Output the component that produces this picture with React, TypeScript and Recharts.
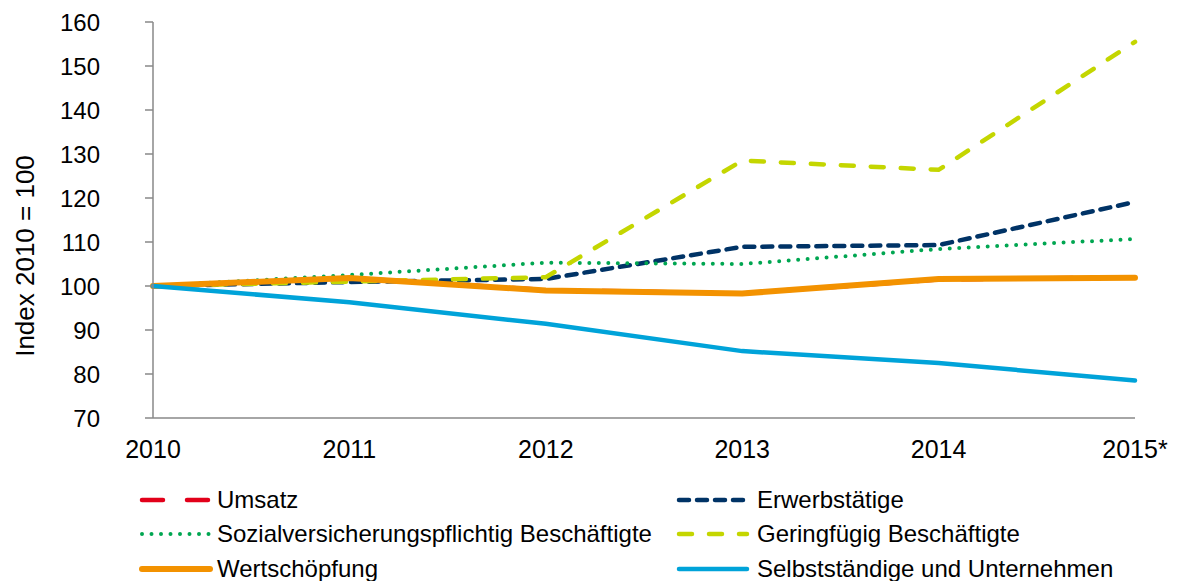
import React from "react";
import { Line, LineChart, XAxis, YAxis } from "recharts";

const years = ["2010", "2011", "2012", "2013", "2014", "2015*"];
const umsatz = [100, 101.8, 99.1, 98.3, 101.5, 102];
const erwerbstaetige = [100, 100.9, 101.6, 108.9, 109.3, 119.1];
const sozialversichert = [100, 102.5, 105.3, 105, 108.4, 110.7];
const geringfuegig = [100, 101, 102, 128.5, 126.4, 155.5];
const wertschoepfung = [100, 101.8, 99, 98.3, 101.6, 101.9];
const selbststaendige = [100, 96.3, 91.4, 85.2, 82.5, 78.5];
const yTicks = [70, 80, 90, 100, 110, 120, 130, 140, 150, 160];

const data = years.map((year, i) => ({
  year,
  umsatz: umsatz[i],
  erwerbstaetige: erwerbstaetige[i],
  sozialversichert: sozialversichert[i],
  geringfuegig: geringfuegig[i],
  wertschoepfung: wertschoepfung[i],
  selbststaendige: selbststaendige[i],
}));

const series = [
  { key: "umsatz", name: "Umsatz", color: "#e2001a", width: 4.5, dash: "21 24", cap: "round" },
  { key: "erwerbstaetige", name: "Erwerbstätige", color: "#003366", width: 4.5, dash: "10 8", cap: "round" },
  { key: "sozialversichert", name: "Sozialversicherungspflichtig Beschäftigte", color: "#00a651", width: 4, dash: "0 9.5", cap: "round" },
  { key: "geringfuegig", name: "Geringfügig Beschäftigte", color: "#c4d600", width: 4.5, dash: "13 17", cap: "round" },
  { key: "wertschoepfung", name: "Wertschöpfung", color: "#f39200", width: 6, dash: undefined, cap: "round" },
  { key: "selbststaendige", name: "Selbstständige und Unternehmen", color: "#00a3d9", width: 4.5, dash: undefined, cap: "round" },
];

const font = "'Liberation Sans', Arial, sans-serif";

const YLabel = () => (
  <text
    x={25}
    y={256}
    transform="rotate(-90 25 256)"
    textAnchor="middle"
    dominantBaseline="central"
    fontSize={26}
    fill="#000"
    fontFamily={font}
  >
    Index 2010 = 100
  </text>
);

const legendRows = [500, 534, 569];
const legendCols = [{ icon: 138, text: 217 }, { icon: 675, text: 757 }];

const App = () => {
  return (
    <div style={{ position: "absolute", left: 0, top: 0, width: 1177, height: 581, fontFamily: font }}>
      <LineChart width={1177} height={581} data={data} margin={{ top: 22, right: 42, bottom: 133, left: 0 }}>
        <XAxis
          dataKey="year"
          axisLine={{ stroke: "#898989", strokeWidth: 1.5 }}
          tickLine={false}
          tick={{ fill: "#000", fontSize: 25, fontFamily: font }}
          tickMargin={16}
          padding={{ left: 0, right: 0 }}
        />
        <YAxis
          width={153}
          domain={[70, 160]}
          ticks={yTicks}
          axisLine={{ stroke: "#898989", strokeWidth: 1.5 }}
          tickLine={{ stroke: "#898989", strokeWidth: 1.5 }}
          tickSize={8}
          tickMargin={45}
          tick={{ fill: "#000", fontSize: 24, fontFamily: font }}
          label={<YLabel />}
        />
        {series.map((s) => (
          <Line
            key={s.key}
            type="linear"
            dataKey={s.key}
            name={s.name}
            stroke={s.color}
            strokeWidth={s.width}
            strokeDasharray={s.dash}
            strokeLinecap={s.cap as any}
            dot={false}
            activeDot={false}
            isAnimationActive={false}
          />
        ))}
      </LineChart>
      {series.map((s, i) => {
        const row = legendRows[Math.floor(i / 2)];
        const col = legendCols[i % 2];
        return (
          <div key={s.key}>
            <svg style={{ position: "absolute", left: col.icon, top: row - 5 }} width={76} height={10}>
              <line
                x1={4}
                x2={72}
                y1={5}
                y2={5}
                stroke={s.color}
                strokeWidth={s.width}
                strokeDasharray={s.dash}
                strokeLinecap={s.cap as any}
              />
            </svg>
            <div
              style={{
                position: "absolute",
                left: col.text,
                top: row - 15,
                fontSize: 24,
                lineHeight: "30px",
                color: "#000",
                whiteSpace: "nowrap",
              }}
            >
              {s.name}
            </div>
          </div>
        );
      })}
    </div>
  );
};

export default App;
